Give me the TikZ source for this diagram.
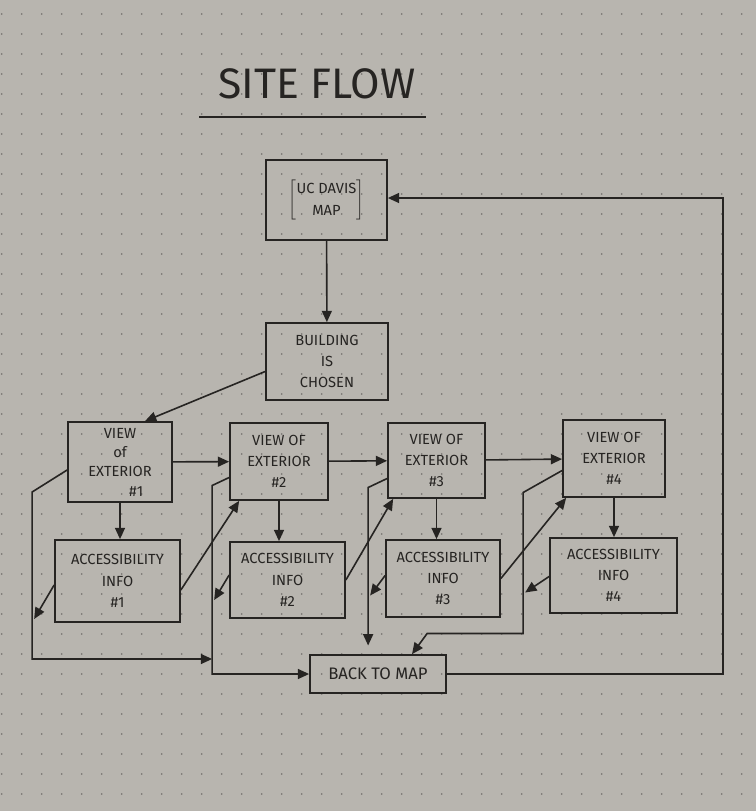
\documentclass[tikz,border=0pt]{standalone}
\usepackage{fontspec}
\setmainfont{Fira Sans}
\usetikzlibrary{arrows.meta,calc}
\definecolor{paper}{RGB}{184,181,175}
\definecolor{ink}{RGB}{38,36,34}
\definecolor{dotgray}{RGB}{112,110,106}
\tikzset{
  box/.style 2 args={draw=ink, line width=1.3pt, minimum width=#1*0.75pt, minimum height=#2*0.75pt,
    inner sep=0pt, align=center, text=ink, font=\fontsize{11}{16}\selectfont},
  flow/.style={draw=ink, line width=1.2pt, -{Triangle[length=8.5pt,width=7.5pt]}}
}
\begin{document}
\begin{tikzpicture}[x=0.75pt,y=0.75pt,yscale=-1,xscale=1]
\useasboundingbox (0,0) rectangle (756,811);
%Paper with dot grid
\fill[paper] (0,0) rectangle (756,811);
\foreach \i in {0,...,37}{\foreach \j in {0,...,39}{\fill[dotgray] (1.7+20*\i,14+20*\j) circle (0.9);}}

% Text Node
\node[text=ink, font=\fontsize{32}{32}\selectfont] (title) at (317,84) {SITE FLOW};
%Straight Lines
\draw[ink, line width=1.3pt] (199,117) -- (426,117);

%Shape: Rectangle
\node[box={121}{80}] (map) at (326.5,200) {$\left[\rule[-11pt]{0pt}{30pt}\begin{tabular}{@{}c@{}}UC DAVIS\\MAP\end{tabular}\right]$};
\node[box={122}{77}] (building) at (327,361.5) {BUILDING\\IS\\CHOSEN};

\node[box={104}{80}, font=\fontsize{11}{14.5}\selectfont] (view1) at (120,462) {VIEW\\of\\EXTERIOR\\\hspace*{2.2em}\#1};
\node[box={98}{77}] (view2) at (279,461.5) {VIEW OF\\EXTERIOR\\\#2};
\node[box={97}{75}] (view3) at (436.5,460.5) {VIEW OF\\EXTERIOR\\\#3};
\node[box={102}{77}] (view4) at (614,458.5) {VIEW OF\\EXTERIOR\\\#4};

\node[box={125}{82}] (acc1) at (117.5,581) {ACCESSIBILITY\\INFO\\\#1};
\node[box={115}{76}] (acc2) at (287.5,580) {ACCESSIBILITY\\INFO\\\#2};
\node[box={114}{77}] (acc3) at (443,578.5) {ACCESSIBILITY\\INFO\\\#3};
\node[box={127}{75}] (acc4) at (613.5,575.5) {ACCESSIBILITY\\INFO\\\#4};

\node[box={136}{38}, font=\fontsize{12.5}{16}\selectfont] (back) at (378,674) {BACK TO MAP};

%Straight Lines
\draw[flow] (map) -- (building);
\draw[flow] ($(building.west)+(0,10)$) -- ($(view1.north)+(25,0)$);
\draw[flow] (view1) -- (view2);
\draw[flow] (view2) -- (view3);
\draw[flow] (view3) -- (view4);
\foreach \n in {1,...,4} \draw[flow] (view\n.south) -- (view\n.south |- acc\n.north);

\draw[flow] ($(acc1.east)+(0,9)$) -- ($(view2.south west)+(10,0)$);
\draw[flow] (acc2.east) -- ($(view3.south west)+(6,0)$);
\draw[flow] (acc3.east) -- ($(view4.south west)+(4,0)$);

%Return lines
\draw[flow] ($(view1.west)+(0,8)$) -- ++(-35,22) -- ++(0,167) -- ++(180,0);
\draw[flow] ($(acc1.west)+(0,4)$) -- ++(-20,34);
\draw[flow] ($(view2.west)+(0,16)$) -- ++(-17,8) |- (back.west);
\draw[flow] ($(acc2.west)+(0,-5)$) -- ++(-15,25);
\draw[flow] ($(view3.west)+(0,18)$) -- ++(-19,9) -- ++(0,158);
\draw[flow] ($(acc3.west)+(0,-3)$) -- ++(-15,20);
\draw[flow] ($(view4.west)+(0,12)$) -- ++(-39,22) -- ++(0,141) -- ++(-96,0) -- ($(back.north)+(34,0)$);
\draw[flow] ($(acc4.west)+(0,1)$) -- ++(-24,16);

\draw[flow] (back.east) -- ++(276,0) |- ($(map.east)+(0,-2)$);

\end{tikzpicture}
\end{document}
